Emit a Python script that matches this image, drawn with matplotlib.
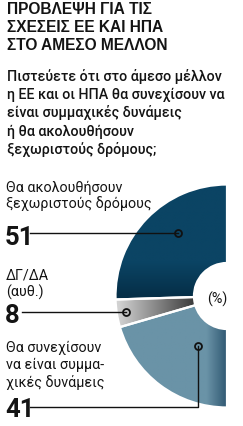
import numpy as np
import matplotlib
matplotlib.use("Agg")
import matplotlib.pyplot as plt
from matplotlib.colors import to_rgb

# data
labels = [["Θα ακολουθήσουν", "ξεχωριστούς δρόμους"],
          ["ΔΓ/ΔΑ", "(αυθ.)"],
          ["Θα συνεχίσουν", "να είναι συμμα-", "χικές δυνάμεις"]]
values = [51, 8, 41]
colors = ["#0b4262", "#a9a9a9", "#658fa3"]

title = ["ΠΡΟΒΛΕΨΗ ΓΙΑ ΤΙΣ", "ΣΧΕΣΕΙΣ ΕΕ ΚΑΙ ΗΠΑ", "ΣΤΟ ΑΜΕΣΟ ΜΕΛΛΟΝ"]
question = ["Πιστεύετε ότι στο άμεσο μέλλον", "η ΕΕ και οι ΗΠΑ θα συνεχίσουν να",
            "είναι συμμαχικές δυνάμεις", "ή θα ακολουθήσουν", "ξεχωριστούς δρόμους;"]

W, H = 243, 427
def Y(y):
    return H - y

txt = "#141414"

fig = plt.figure(figsize=(W / 100, H / 100), dpi=100)
ax = fig.add_axes([0, 0, 1, 1])

# half donut: hidden slice fills the right half
cx, cy = 227, Y(297)
R, r = 111.5, 33
wedges, _ = ax.pie(values + [sum(values)], colors=colors + ["none"], startangle=90,
                   counterclock=True, radius=R, center=(cx, cy), frame=True,
                   wedgeprops=dict(width=R - r, edgecolor="white", linewidth=1.6))
wedges[-1].set_visible(False)

# shading on the slices
ext = [cx - R, cx, cy - R, cy + R]
nx, ny = 120, 240
gx = np.linspace(ext[0], ext[1], nx)[None, :].repeat(ny, 0)
gy = np.linspace(ext[3], ext[2], ny)[:, None].repeat(nx, 1)

def blend(c1, c2, t):
    a, b = np.array(to_rgb(c1)), np.array(to_rgb(c2))
    t = np.clip(t, 0, 1)[..., None]
    return a * (1 - t) + b * t

shades = [
    blend("#0b4464", "#052f48", (Y(262) - gy) / 34),
    blend("#d2d2d2", "#3a3a3a", (gx - 118) / 76),
    blend("#6a93a7", "#2e5670", (gx - 206) / 21),
]
for w, img in zip(wedges[:3], shades):
    im = ax.imshow(img, extent=ext, origin="upper", interpolation="bilinear", zorder=1.5)
    im.set_clip_path(w)
for w in wedges[:3]:
    w.set_zorder(1)
    ax.add_patch(plt.matplotlib.patches.Wedge(w.center, w.r, w.theta1, w.theta2, width=w.width,
                 fc="none", ec="white", lw=1.6, zorder=1.6))

ax.set_xlim(0, W)
ax.set_ylim(0, H)
ax.set_aspect("auto")
ax.axis("off")

def lines(x, ys, rows, **kw):
    for yy, s in zip(ys, rows):
        ax.text(x, Y(yy), s, va="baseline", ha="left", color=txt, **kw)

lines(6.5, [14.5, 32, 49.5], title, fontsize=11.2, fontweight="bold", family="Liberation Sans")
lines(7, [81, 99, 117.5, 136, 154], question, fontsize=10.3, fontweight="medium", family="Roboto")

# labels, numbers and leader lines
lab_y = [[192, 208.5], [280, 297], [352, 369.5, 387]]
num_y = [245, 323, 417]
for i in range(3):
    lines(6, lab_y[i], labels[i], fontsize=10.3, family="Roboto")
    lines(5, [num_y[i]], [str(values[i])], fontsize=18.5, fontweight="bold", family="Roboto")

pts = [(178, 234), (126, 313), (198, 347)]
ax.plot([30, 178], [Y(234), Y(234)], color="#111", lw=1, zorder=3)
ax.plot([22, 126], [Y(313), Y(313)], color="#111", lw=1, zorder=3)
ax.plot([30, 198, 198], [Y(408), Y(408), Y(347)], color="#111", lw=1, zorder=3)
for px, py in pts:
    ax.plot([px], [Y(py)], "o", ms=5, mfc="none", mec="#111", mew=1.3, zorder=4)

ax.text(217, Y(303.5), "(%)", fontsize=10.3, family="Roboto", va="baseline", ha="center", color=txt)

fig.savefig("out.png", dpi=100)
